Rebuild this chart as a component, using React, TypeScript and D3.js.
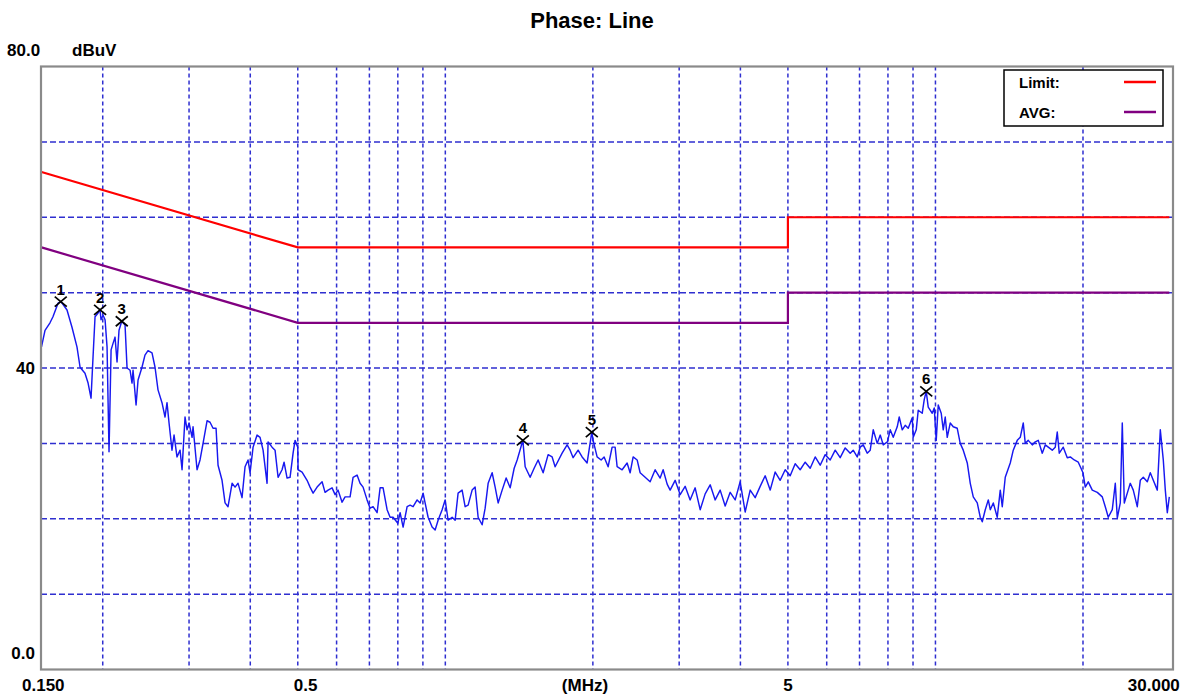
import React from "react";
import * as d3 from "d3";

// ---------- data ----------
const titleText = "Phase: Line";
const yUnitText = "dBuV";
const xUnitText = "(MHz)";

const yLabelValues = [80, 40, 0];
const yLabelTexts = ["80.0", "40", "0.0"];
const xLabelValues = [0.15, 0.5, 5, 30];
const xLabelTexts = ["0.150", "0.5", "5", "30.000"];

const gridFreqs = [0.2, 0.3, 0.4, 0.5, 0.6, 0.7, 0.8, 0.9, 1, 2, 3, 4, 5, 6, 7, 8, 9, 10, 20];
const gridLevels = [10, 20, 30, 40, 50, 60, 70];

const limitFreq = [0.15, 0.5, 5, 5, 30];
const limitQP = [66, 56, 56, 60, 60];
const limitAVG = [56, 46, 46, 50, 50];

const legendNames = ["Limit:", "AVG:"];

const markerLabels = ["1", "2", "3", "4", "5", "6"];
const markerFreq = [0.1642, 0.1975, 0.2187, 1.4393, 1.99, 9.5759];
const markerLevel = [48.8, 47.7, 46.2, 30.4, 31.5, 36.9];

const traceFreq = [
  0.15, 0.1525, 0.1561, 0.1583, 0.1621, 0.1642, 0.1652, 0.1691, 0.1731, 0.1772,
  0.1798, 0.184, 0.1867, 0.1893, 0.1911, 0.1929, 0.1957, 0.1975, 0.1984, 0.2003,
  0.2022, 0.2041, 0.2051, 0.206, 0.208, 0.21, 0.2119, 0.2139, 0.2159, 0.2187,
  0.2221, 0.2242, 0.2274, 0.2295, 0.2306, 0.2339, 0.2361, 0.2405, 0.2439, 0.2474,
  0.2521, 0.2557, 0.2593, 0.2642, 0.268, 0.2705, 0.2731, 0.2769, 0.2796, 0.2835,
  0.2876, 0.2903, 0.2944, 0.2972, 0.3, 0.3043, 0.3057, 0.3115, 0.3159, 0.3204,
  0.3265, 0.3311, 0.3358, 0.3406, 0.3438, 0.3503, 0.3553, 0.3603, 0.3672, 0.3724,
  0.3777, 0.3848, 0.3903, 0.3958, 0.3996, 0.4053, 0.413, 0.4188, 0.4248, 0.4328,
  0.4349, 0.4431, 0.4494, 0.4558, 0.4644, 0.4688, 0.4755, 0.4822, 0.4891, 0.4937,
  0.5, 0.5007, 0.5102, 0.5223, 0.5297, 0.5373, 0.5475, 0.5605, 0.5684, 0.5765,
  0.5874, 0.5958, 0.6042, 0.6157, 0.6244, 0.6393, 0.6483, 0.6606, 0.67, 0.6795,
  0.6924, 0.7023, 0.7122, 0.7258, 0.7361, 0.7465, 0.7607, 0.7715, 0.7824, 0.8,
  0.8086, 0.8201, 0.8357, 0.8475, 0.8595, 0.8759, 0.8883, 0.9009, 0.9094, 0.9223,
  0.9398, 0.9532, 0.9667, 0.9851, 0.9991, 1.0133, 1.0325, 1.0472, 1.0619, 1.0821,
  1.0975, 1.1131, 1.1342, 1.1503, 1.1667, 1.1888, 1.2057, 1.2228, 1.246, 1.2637,
  1.2817, 1.306, 1.3308, 1.3561, 1.3819, 1.4015, 1.4393, 1.4552, 1.4895, 1.5177,
  1.5465, 1.5833, 1.6209, 1.6517, 1.6751, 1.731, 1.7722, 1.7973, 1.8228, 1.8661,
  1.9016, 1.9467, 1.99, 2.0025, 2.0404, 2.0791, 2.1086, 2.1486, 2.1894, 2.2205,
  2.2415, 2.2947, 2.3492, 2.3826, 2.4165, 2.4624, 2.4974, 2.5568, 2.6175, 2.6798,
  2.7434, 2.7824, 2.8353, 2.8755, 2.9439, 3.0138, 3.0854, 3.1587, 3.2337, 3.3112,
  3.3898, 3.4704, 3.5529, 3.6373, 3.7238, 3.8123, 3.903, 3.9957, 4.0907, 4.188,
  4.2875, 4.3895, 4.4937, 4.6005, 4.7099, 4.8219, 4.9365, 5.0538, 5.174, 5.297,
  5.4228, 5.5518, 5.6837, 5.8188, 5.9571, 6.0987, 6.2438, 6.3921, 6.544, 6.7002,
  6.7953, 6.9245, 7.0227, 7.1223, 7.2576, 7.3607, 7.4652, 7.607, 7.715, 7.8245,
  7.978, 8.086, 8.2008, 8.3565, 8.4351, 8.5548, 8.6762, 8.7996, 8.9666, 9.0089,
  9.1367, 9.2229, 9.3978, 9.4866, 9.5759, 9.6665, 9.8499, 9.9429, 10.037, 10.132,
  10.275, 10.373, 10.47, 10.569, 10.719, 10.872, 11.078, 11.235, 11.395, 11.612,
  11.777, 11.944, 12.17, 12.343, 12.46, 12.637, 12.817, 12.938, 13.122, 13.369,
  13.559, 13.687, 13.881, 14.211, 14.413, 14.687, 14.895, 15.107, 15.249, 15.465,
  15.76, 15.983, 16.21, 16.517, 16.751, 16.989, 17.31, 17.557, 17.722, 17.89,
  18.229, 18.576, 18.84, 19.197, 19.563, 20.0, 20.216, 20.502, 20.892, 21.389,
  21.897, 22.208, 22.523, 22.95, 23.277, 23.496, 23.83, 24.054, 24.282, 24.626,
  24.975, 25.33, 25.81, 26.177, 26.549, 27.053, 27.437, 27.827, 28.355, 28.758,
  29.166, 29.442, 29.72, 30.0,
];

const traceLevel = [
  42.8, 45.0, 46.0, 46.8, 48.6, 48.8, 48.6, 47.7, 45.4, 42.8,
  40.1, 39.3, 38.0, 36.0, 41.5, 46.8, 47.3, 47.7, 46.4, 47.0,
  46.4, 42.8, 35.4, 28.9, 42.4, 43.3, 44.1, 40.8, 45.0, 46.2,
  45.7, 40.0, 39.7, 38.0, 39.7, 35.1, 38.4, 40.1, 41.7, 42.3,
  42.0, 40.1, 37.1, 35.4, 33.5, 35.4, 32.7, 29.1, 31.1, 28.2,
  29.1, 26.5, 33.5, 31.8, 32.7, 30.8, 32.2, 26.5, 27.8, 30.0,
  33.0, 32.8, 32.0, 32.0, 27.1, 25.1, 22.1, 21.6, 24.7, 24.2,
  24.7, 22.8, 26.9, 27.8, 26.1, 29.5, 31.1, 30.8, 29.1, 24.7,
  30.2, 29.5, 29.1, 25.5, 26.5, 27.5, 25.4, 25.5, 28.7, 30.4,
  29.5, 26.5, 26.2, 25.1, 24.2, 23.4, 24.2, 24.9, 23.5, 23.8,
  24.1, 23.2, 23.8, 22.2, 22.9, 22.9, 25.5, 25.8, 24.7, 24.2,
  22.5, 21.4, 21.6, 20.8, 24.1, 24.1, 21.2, 20.2, 20.2, 19.4,
  20.8, 18.9, 21.6, 21.8, 21.6, 22.5, 22.1, 23.4, 22.1, 20.2,
  18.9, 18.5, 19.8, 21.2, 22.5, 19.8, 20.2, 19.8, 23.4, 23.8,
  21.6, 21.8, 23.8, 24.2, 20.2, 19.2, 21.4, 24.7, 26.1, 24.2,
  22.1, 23.8, 25.4, 24.1, 26.7, 27.8, 30.4, 26.9, 25.5, 26.7,
  27.8, 26.1, 28.5, 28.2, 26.9, 28.7, 29.8, 29.1, 28.1, 29.1,
  28.2, 27.4, 31.5, 30.4, 28.2, 27.8, 28.2, 26.9, 29.5, 29.5,
  26.9, 26.5, 27.4, 26.1, 28.2, 27.8, 26.1, 25.5, 24.9, 26.5,
  25.4, 26.5, 24.6, 23.8, 25.1, 23.2, 24.3, 22.5, 24.1, 21.2,
  23.3, 24.5, 22.5, 23.8, 21.7, 23.5, 22.5, 24.9, 20.9, 23.8,
  22.8, 24.3, 25.7, 23.8, 26.2, 25.1, 26.5, 25.7, 27.3, 26.5,
  27.5, 26.7, 28.2, 27.1, 28.5, 27.8, 29.1, 28.1, 29.4, 28.7,
  29.1, 28.2, 29.5, 29.8, 28.7, 29.1, 31.8, 30.0, 31.1, 29.8,
  30.2, 31.8, 30.8, 32.2, 33.5, 31.8, 32.4, 32.0, 33.4, 30.8,
  31.8, 34.4, 34.0, 35.8, 36.9, 34.8, 34.0, 34.7, 30.4, 35.1,
  34.0, 31.8, 33.5, 30.8, 32.7, 32.2, 32.0, 30.0, 29.1, 27.4,
  24.7, 22.9, 22.1, 20.2, 19.6, 21.2, 22.5, 21.2, 22.1, 20.2,
  23.8, 21.6, 25.5, 27.4, 29.1, 30.4, 30.8, 32.7, 30.0, 30.4,
  29.8, 30.2, 30.4, 28.7, 29.8, 29.5, 29.1, 29.5, 31.5, 28.7,
  29.5, 28.1, 28.2, 27.8, 27.5, 26.1, 24.2, 24.9, 23.8, 23.5,
  22.9, 21.6, 20.2, 21.2, 24.7, 20.1, 22.1, 32.7, 22.1, 23.4,
  24.7, 23.8, 21.6, 25.1, 25.5, 24.9, 26.1, 25.1, 23.8, 31.8,
  27.8, 23.8, 20.8, 22.9,
];

// ---------- layout ----------
const W = 1185;
const H = 698;
const frameLeft = 41;
const frameRight = 1173;
const frameTop = 66.5;
const frameBottom = 669.5;

const FONT = "'Liberation Sans', Arial, Helvetica, sans-serif";

export default function App() {
  const x = d3.scaleLog().domain([0.15, 30]).range([41.5, 1169.3]);
  const y = d3.scaleLinear().domain([0, 80]).range([frameBottom, frameTop]);

  const line = d3
    .line<[number, number]>()
    .x((d) => x(d[0]))
    .y((d) => y(d[1]));

  const tracePts: [number, number][] = traceFreq.map((f, i) => [f, traceLevel[i]]);
  const qpPts: [number, number][] = limitFreq.map((f, i) => [f, limitQP[i]]);
  const avgPts: [number, number][] = limitFreq.map((f, i) => [f, limitAVG[i]]);

  const gridColor = "#2f2fd0";

  const xLabelAnchor = ["start", "start", "middle", "end"];
  const xLabelShift = [-19.5, -4, 0, 10.5];

  return (
    <div style={{ position: "absolute", left: 0, top: 0, width: W, height: H, background: "#fff" }}>
      <svg width={W} height={H} style={{ display: "block" }} fontFamily={FONT}>
        <rect x={0} y={0} width={W} height={H} fill="#fff" />
        <defs>
          <clipPath id="plotClip">
            <rect x={frameLeft} y={frameTop} width={frameRight - frameLeft} height={frameBottom - frameTop} />
          </clipPath>
        </defs>

        {/* title */}
        <text x={592} y={28} textAnchor="middle" fontSize={22} fontWeight="bold" fill="#000">
          {titleText}
        </text>

        {/* grid */}
        {gridFreqs.map((f) => (
          <line
            key={"gv" + f}
            x1={x(f)}
            x2={x(f)}
            y1={frameTop}
            y2={frameBottom}
            stroke={gridColor}
            strokeWidth={1.5}
            strokeDasharray="4,3"
          />
        ))}
        {gridLevels.map((v) => (
          <line
            key={"gh" + v}
            x1={frameLeft}
            x2={frameRight}
            y1={y(v)}
            y2={y(v)}
            stroke={gridColor}
            strokeWidth={1.5}
            strokeDasharray="6,3"
          />
        ))}

        {/* legend box */}
        <rect x={1004} y={70} width={159} height={56} fill="#fff" stroke="#000" strokeWidth={1.5} />
        <text x={1019} y={88} fontSize={15} fontWeight="bold" fill="#000">
          {legendNames[0]}
        </text>
        <line x1={1124} x2={1156} y1={82} y2={82} stroke="#ff0000" strokeWidth={2.5} />
        <text x={1019} y={118} fontSize={15} fontWeight="bold" fill="#000">
          {legendNames[1]}
        </text>
        <line x1={1124} x2={1156} y1={112} y2={112} stroke="#800080" strokeWidth={2.5} />

        {/* limits and trace */}
        <g clipPath="url(#plotClip)">
          <path d={line(qpPts) || ""} fill="none" stroke="#ff0000" strokeWidth={2.2} />
          <path d={line(avgPts) || ""} fill="none" stroke="#800080" strokeWidth={2.2} />
          <path d={line(tracePts) || ""} fill="none" stroke="#1818f0" strokeWidth={1.45} strokeLinejoin="round" />
        </g>

        {/* markers */}
        {markerFreq.map((f, i) => {
          const cx = x(f);
          const cy = y(markerLevel[i]);
          return (
            <g key={"m" + i}>
              <line x1={cx - 6} x2={cx + 6} y1={cy - 5} y2={cy + 5} stroke="#000" strokeWidth={1.7} />
              <line x1={cx - 6} x2={cx + 6} y1={cy + 5} y2={cy - 5} stroke="#000" strokeWidth={1.7} />
              <text x={cx} y={cy - 7} textAnchor="middle" fontSize={15} fontWeight="bold" fill="#000">
                {markerLabels[i]}
              </text>
            </g>
          );
        })}

        {/* frame */}
        <rect
          x={frameLeft}
          y={frameTop}
          width={frameRight - frameLeft}
          height={frameBottom - frameTop}
          fill="none"
          stroke="#8a8a8a"
          strokeWidth={2.2}
        />

        {/* y labels */}
        <text x={7} y={56} fontSize={17} fontWeight="bold" fill="#000">
          {yLabelTexts[0]}
        </text>
        <text x={72} y={56} fontSize={17} fontWeight="bold" fill="#000">
          {yUnitText}
        </text>
        {yLabelValues.slice(1).map((v, i) => (
          <text
            key={"yl" + v}
            x={35}
            y={v === 0 ? y(v) - 11 : y(v) + 6}
            textAnchor="end"
            fontSize={17}
            fontWeight="bold"
            fill="#000"
          >
            {yLabelTexts[i + 1]}
          </text>
        ))}

        {/* x labels */}
        {xLabelValues.map((v, i) => (
          <text
            key={"xl" + v}
            x={x(v) + xLabelShift[i]}
            y={691}
            textAnchor={xLabelAnchor[i] as any}
            fontSize={17}
            fontWeight="bold"
            fill="#000"
          >
            {xLabelTexts[i]}
          </text>
        ))}
        <text x={585} y={691} textAnchor="middle" fontSize={17} fontWeight="bold" fill="#000">
          {xUnitText}
        </text>
      </svg>
    </div>
  );
}
